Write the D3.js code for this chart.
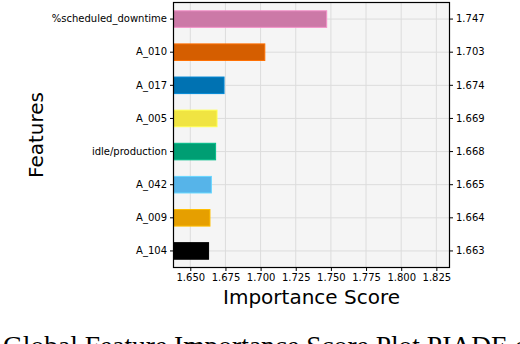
<!DOCTYPE html>
<html>
<head>
<meta charset="utf-8">
<script src="https://cdn.jsdelivr.net/npm/d3@7"></script>
<style>
  body { margin: 0; background: #fff; }
</style>
</head>
<body>
<div id="chart"></div>
<script>
// Data
const features = ["%scheduled_downtime", "A_010", "A_017", "A_005", "idle/production", "A_042", "A_009", "A_104"];
const scores = [1.747, 1.703, 1.674, 1.669, 1.668, 1.665, 1.664, 1.663];
const barColors = ["#CC79A7", "#D55E00", "#0072B2", "#F0E442", "#009E73", "#56B4E9", "#E69F00", "#000000"];
const xTicks = [1.650, 1.675, 1.700, 1.725, 1.750, 1.775, 1.800, 1.825];

const width = 520, height = 344;
const margin = { left: 173.5, right: 70.5, top: 2.5, bottom: 76.5 };
const sans = "'DejaVu Sans', sans-serif";

const svg = d3.select("#chart")
  .append("svg")
  .attr("width", width)
  .attr("height", height);

// x limits like matplotlib: min*0.985 .. max*1.05
const x = d3.scaleLinear()
  .domain([d3.min(scores) * 0.985, d3.max(scores) * 1.05])
  .range([margin.left, width - margin.right]);

const y = d3.scaleBand()
  .domain(features)
  .range([margin.top, height - margin.bottom])
  .paddingInner(0.5)
  .paddingOuter(0.25);

const plotW = width - margin.left - margin.right;
const plotH = height - margin.top - margin.bottom;

// Clip so bars start from the left edge
svg.append("clipPath").attr("id", "clip")
  .append("rect")
  .attr("x", margin.left).attr("y", margin.top)
  .attr("width", plotW).attr("height", plotH);

// Background
svg.append("rect")
  .attr("x", margin.left).attr("y", margin.top)
  .attr("width", plotW).attr("height", plotH)
  .attr("fill", "#f5f5f5");

// Grid lines
const grid = svg.append("g").attr("stroke", "#dcdcdc").attr("stroke-width", 1);
grid.selectAll("line.v")
  .data(xTicks)
  .enter().append("line")
  .attr("x1", d => x(d)).attr("x2", d => x(d))
  .attr("y1", margin.top).attr("y2", height - margin.bottom);
grid.selectAll("line.h")
  .data(features)
  .enter().append("line")
  .attr("x1", margin.left).attr("x2", width - margin.right)
  .attr("y1", d => y(d) + y.bandwidth() / 2)
  .attr("y2", d => y(d) + y.bandwidth() / 2);

// Bars
svg.append("g").attr("clip-path", "url(#clip)")
  .selectAll("rect")
  .data(features)
  .enter().append("rect")
  .attr("x", margin.left - 5)
  .attr("y", d => y(d))
  .attr("width", (d, i) => x(scores[i]) - margin.left + 5)
  .attr("height", y.bandwidth())
  .attr("fill", (d, i) => barColors[i])
  .attr("stroke", (d, i) => d3.color(barColors[i]).brighter(0.5))
  .attr("stroke-width", 1);

// Left axis (feature names)
const yAxis = d3.axisLeft(y).tickSize(3.5).tickPadding(3);
const gy = svg.append("g")
  .attr("transform", `translate(${margin.left},0)`)
  .call(yAxis);
gy.select(".domain").remove();
gy.selectAll("text").style("font-family", sans).attr("font-size", "10px").attr("fill", "#000");

// Right axis (score values)
const yRight = d3.axisRight(y)
  .tickSize(3.5).tickPadding(3)
  .tickFormat((d, i) => scores[i].toFixed(3));
const gr = svg.append("g")
  .attr("transform", `translate(${width - margin.right},0)`)
  .call(yRight);
gr.select(".domain").remove();
gr.selectAll("text").style("font-family", sans).attr("font-size", "10px").attr("fill", "#000");

// Bottom axis
const xAxis = d3.axisBottom(x).tickValues(xTicks).tickFormat(d3.format(".3f")).tickSize(3.5).tickPadding(3);
const gx = svg.append("g")
  .attr("transform", `translate(0,${height - margin.bottom})`)
  .call(xAxis);
gx.select(".domain").remove();
gx.selectAll("text").style("font-family", sans).attr("font-size", "10px").attr("fill", "#000");

// Frame
svg.append("rect")
  .attr("x", margin.left).attr("y", margin.top)
  .attr("width", plotW).attr("height", plotH)
  .attr("fill", "none")
  .attr("stroke", "#000")
  .attr("stroke-width", 1.2);

// Axis titles
svg.append("text")
  .attr("x", margin.left + plotW / 2)
  .attr("y", 304)
  .attr("text-anchor", "middle")
  .style("font-family", sans)
  .attr("font-size", "20px")
  .text("Importance Score");

svg.append("text")
  .attr("transform", `translate(43,${margin.top + plotH / 2}) rotate(-90)`)
  .attr("text-anchor", "middle")
  .style("font-family", sans)
  .attr("font-size", "20px")
  .text("Features");

// Caption (cut off at the bottom, as in the source)
svg.append("text")
  .attr("x", 3)
  .attr("y", 355)
  .style("font-family", "'Liberation Serif', 'Times New Roman', serif")
  .attr("font-size", "27.5px")
  .text("Global Feature Importance Score Plot PIADE on");
</script>
</body>
</html>
